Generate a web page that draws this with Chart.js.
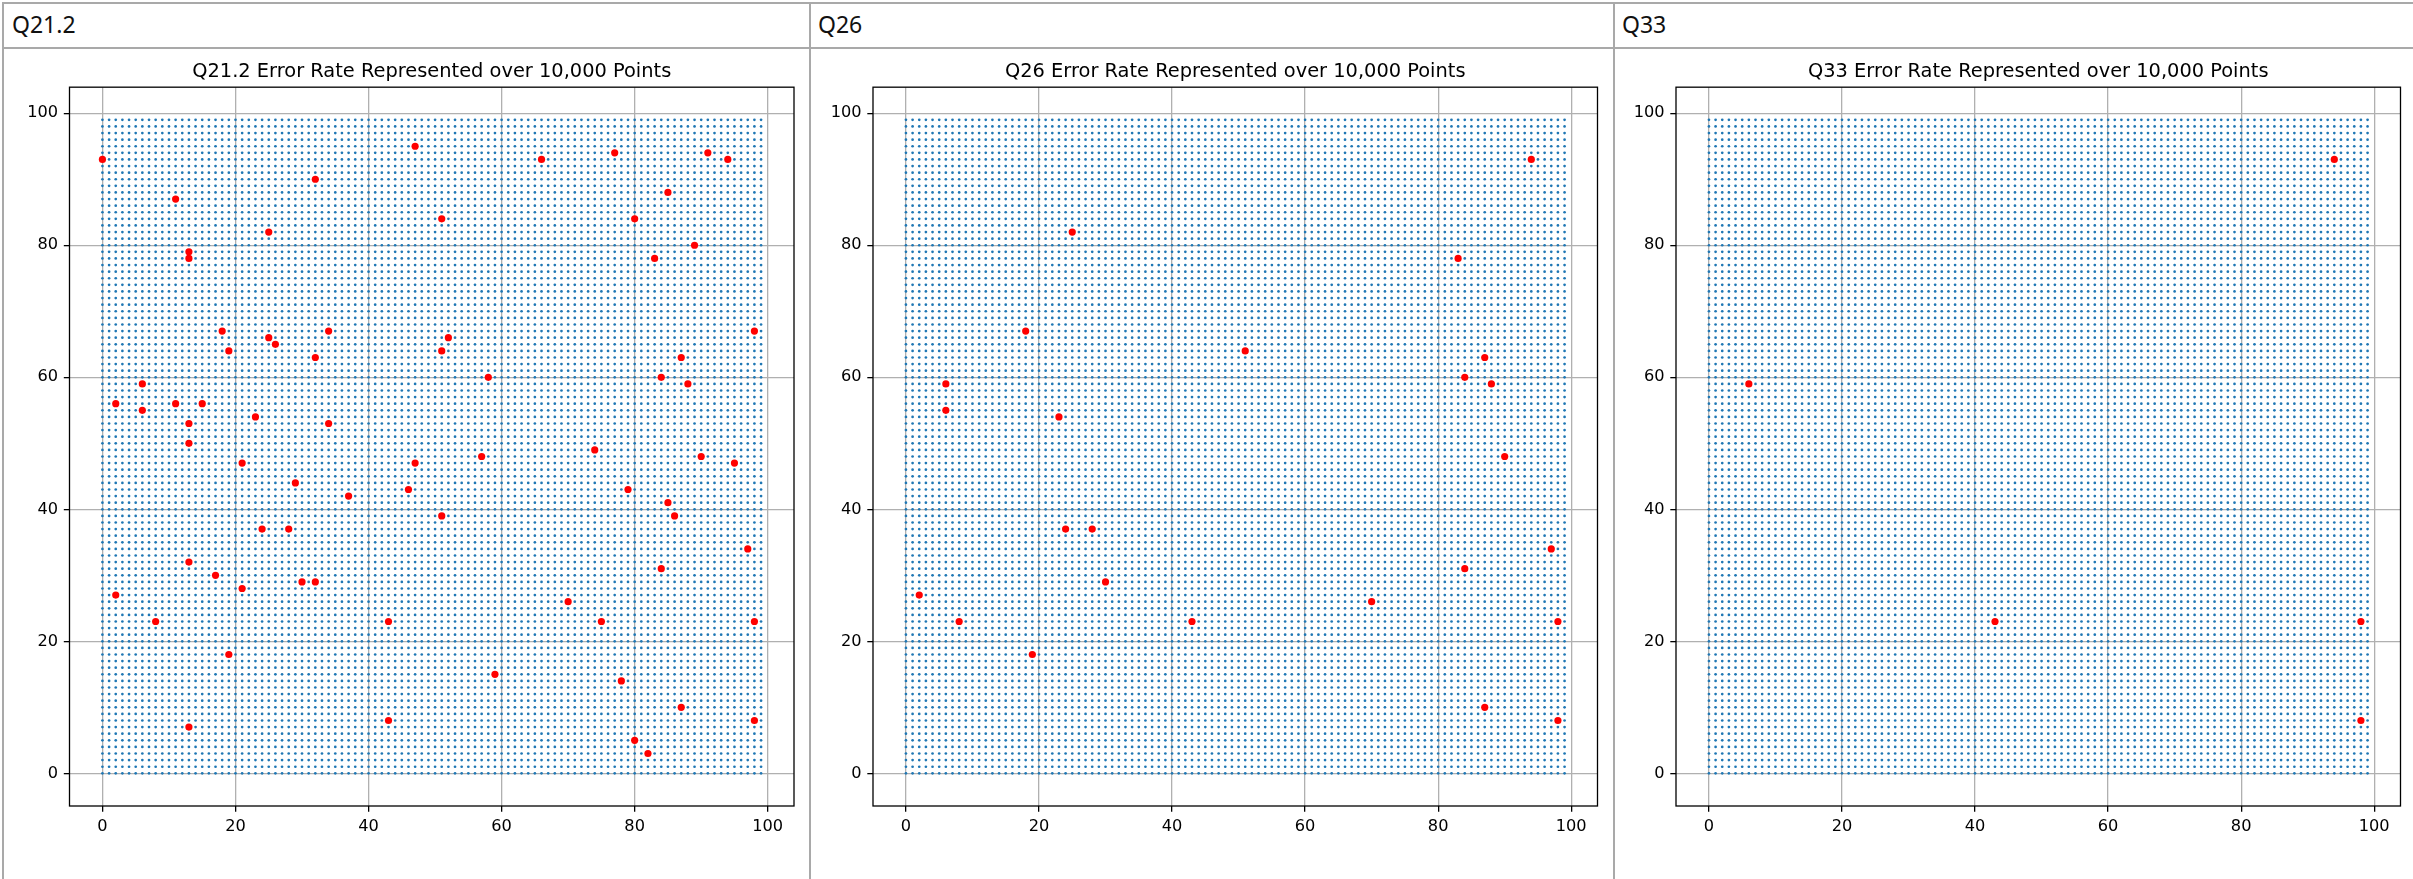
<!DOCTYPE html>
<html>
<head>
<meta charset="utf-8">
<title>Error Rate Represented over 10,000 Points</title>
<script src="https://cdn.jsdelivr.net/npm/chart.js@4.4.1/dist/chart.umd.min.js"></script>
<style>
  html, body { margin: 0; padding: 0; background: #fff; }
  body { width: 2413px; height: 879px; position: relative; overflow: hidden; }
  .linea { position: absolute; background: #a9a9a9; }
  .cabecera {
    position: absolute; top: 3px; height: 43px; line-height: 43px;
    font-family: 'Noto Sans', sans-serif; font-size: 23px; color: #111;
  }
  canvas { position: absolute; top: 49px; }
</style>
</head>
<body>

<div class="cabecera" style="left:12px">Q21.2</div>
<div class="cabecera" style="left:818px">Q26</div>
<div class="cabecera" style="left:1622px">Q33</div>

<canvas id="grafica1" width="805" height="830" style="left:4px"></canvas>
<canvas id="grafica2" width="802" height="830" style="left:811px"></canvas>
<canvas id="grafica3" width="798" height="830" style="left:1615px"></canvas>

<div class="linea" style="left:2px; right:0; top:2px; height:2px"></div>
<div class="linea" style="left:2px; right:0; top:47px; height:2px"></div>
<div class="linea" style="left:2px; top:2px; bottom:0; width:2px"></div>
<div class="linea" style="left:809px; top:2px; bottom:0; width:2px"></div>
<div class="linea" style="left:1613px; top:2px; bottom:0; width:2px"></div>

<script>
// ─── Datos ────────────────────────────────────────────────────────────────────
const QUESTIONS = ['Q21.2', 'Q26', 'Q33'];

// Coordenadas de la malla de 100 x 100 puntos
const GRID_COORDS = [
  0, 1, 2, 3, 4, 5, 6, 7, 8, 9, 10, 11, 12, 13, 14, 15, 16, 17, 18, 19,
  20, 21, 22, 23, 24, 25, 26, 27, 28, 29, 30, 31, 32, 33, 34, 35, 36, 37, 38, 39,
  40, 41, 42, 43, 44, 45, 46, 47, 48, 49, 50, 51, 52, 53, 54, 55, 56, 57, 58, 59,
  60, 61, 62, 63, 64, 65, 66, 67, 68, 69, 70, 71, 72, 73, 74, 75, 76, 77, 78, 79,
  80, 81, 82, 83, 84, 85, 86, 87, 88, 89, 90, 91, 92, 93, 94, 95, 96, 97, 98, 99
];

const TICK_VALUES = [0, 20, 40, 60, 80, 100];
const AXIS_MIN = -4.95;
const AXIS_MAX = 103.95;

// Puntos con error [x, y]
const Q21_2_ERRORS = [
  [0, 93], [47, 95], [66, 93], [77, 94], [91, 94], [94, 93], [32, 90], [11, 87], [85, 88],
  [25, 82], [51, 84], [80, 84], [89, 80], [13, 79], [13, 78], [83, 78],
  [18, 67], [34, 67], [98, 67], [25, 66], [52, 66], [26, 65], [19, 64], [51, 64], [32, 63], [87, 63],
  [58, 60], [84, 60], [6, 59], [88, 59], [2, 56], [11, 56], [15, 56], [6, 55], [23, 54], [13, 53], [34, 53],
  [13, 50], [74, 49], [57, 48], [90, 48], [21, 47], [47, 47], [95, 47],
  [29, 44], [46, 43], [79, 43], [37, 42], [85, 41], [51, 39], [86, 39], [24, 37], [28, 37],
  [97, 34], [13, 32], [84, 31], [17, 30], [30, 29], [32, 29], [21, 28], [2, 27], [70, 26],
  [8, 23], [43, 23], [75, 23], [98, 23], [19, 18], [59, 15], [78, 14],
  [87, 10], [98, 8], [43, 8], [13, 7], [80, 5], [82, 3]
];

const Q26_ERRORS = [
  [94, 93], [25, 82], [83, 78], [18, 67], [51, 64], [87, 63], [84, 60], [6, 59], [88, 59],
  [6, 55], [23, 54], [90, 48], [24, 37], [28, 37], [97, 34], [84, 31], [30, 29], [2, 27],
  [70, 26], [8, 23], [43, 23], [98, 23], [19, 18], [87, 10], [98, 8]
];

const Q33_ERRORS = [
  [94, 93], [6, 59], [43, 23], [98, 23], [98, 8]
];

// ─── Layout de cada panel (px dentro del canvas) ──────────────────────────────
const PANELES = [
  { canvas: 'grafica1', anchoEjeY: 65.5, margenDer: 15 },
  { canvas: 'grafica2', anchoEjeY: 62,   margenDer: 15.5 },
  { canvas: 'grafica3', anchoEjeY: 61,   margenDer: 12.5 }
];

const puntosMalla = [];
GRID_COORDS.forEach(x => GRID_COORDS.forEach(y => puntosMalla.push({ x, y })));

// Marco negro alrededor del área de trazado (como las spines de matplotlib)
const marcoEjes = {
  id: 'marcoEjes',
  afterDraw(chart) {
    const { ctx, chartArea: a } = chart;
    ctx.save();
    ctx.strokeStyle = '#000';
    ctx.lineWidth = 1.3;
    ctx.strokeRect(a.left, a.top, a.right - a.left, a.bottom - a.top);
    ctx.restore();
  }
};

function configEje(tamano) {
  return {
    type: 'linear',
    min: AXIS_MIN,
    max: AXIS_MAX,
    z: 1, // rejilla por encima de los puntos
    afterBuildTicks: scale => { scale.ticks = TICK_VALUES.map(value => ({ value })); },
    afterFit: scale => {
      if (scale.isHorizontal()) scale.height = tamano;
      else scale.width = tamano;
    },
    grid: { color: '#b0b0b0', lineWidth: 1.3, tickColor: '#000', tickWidth: 1.3, tickLength: 5.7 },
    border: { display: false },
    ticks: {
      color: '#000',
      padding: 5.7,
      autoSkip: false,
      maxRotation: 0,
      font: { family: 'DejaVu Sans', size: 16.2 }
    }
  };
}

// ─── Crear gráfica ────────────────────────────────────────────────────────────
function crearGrafica(panel, pregunta, errores) {
  return new Chart(document.getElementById(panel.canvas), {
    type: 'scatter',
    data: {
      datasets: [
        {
          label: 'Error',
          data: errores.map(([x, y]) => ({ x, y })),
          backgroundColor: '#ff0000',
          borderWidth: 0,
          pointRadius: 3.6
        },
        {
          label: 'Points',
          data: puntosMalla,
          backgroundColor: '#1f77b4',
          borderWidth: 0,
          pointRadius: 1.35
        }
      ]
    },
    options: {
      responsive: false,
      animation: false,
      events: [],
      layout: { padding: { left: 0, right: panel.margenDer, top: 0, bottom: 0 } },
      plugins: {
        legend: { display: false },
        tooltip: { enabled: false },
        title: {
          display: true,
          fullSize: false,
          text: `${pregunta} Error Rate Represented over 10,000 Points`,
          color: '#000',
          font: { family: 'DejaVu Sans', size: 19.4, weight: 'normal', lineHeight: 1.2 },
          padding: { top: 10.9, bottom: 4.0 }
        }
      },
      scales: {
        x: configEje(73),
        y: configEje(panel.anchoEjeY)
      }
    },
    plugins: [marcoEjes]
  });
}

// ─── Init ─────────────────────────────────────────────────────────────────────
crearGrafica(PANELES[0], QUESTIONS[0], Q21_2_ERRORS);
crearGrafica(PANELES[1], QUESTIONS[1], Q26_ERRORS);
crearGrafica(PANELES[2], QUESTIONS[2], Q33_ERRORS);
</script>
</body>
</html>
